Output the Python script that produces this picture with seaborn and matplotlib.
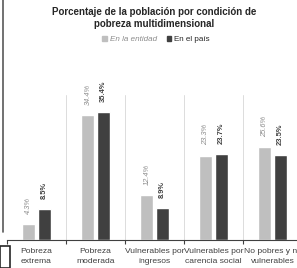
import numpy as np
import pandas as pd
import matplotlib
matplotlib.use("Agg")
import matplotlib.pyplot as plt
import seaborn as sns
from matplotlib.patches import Rectangle
from matplotlib.lines import Line2D

categorias = ["Pobreza\nextrema", "Pobreza\nmoderada", "Vulnerables por\ningresos",
              "Vulnerables por\ncarencia social", "No pobres y no\nvulnerables"]
entidad = [4.3, 34.4, 12.4, 23.3, 25.6]
pais = [8.5, 35.4, 8.9, 23.7, 23.5]
series = ["En la entidad", "En el país"]

df = pd.DataFrame({
    "cat": categorias * 2,
    "serie": [series[0]] * 5 + [series[1]] * 5,
    "valor": entidad + pais,
})

sns.set_style("white")
plt.rcParams["font.family"] = ["Liberation Sans", "DejaVu Sans"]

fig = plt.figure(figsize=(2.97, 2.68), dpi=100)
ax = fig.add_axes([7 / 297, 28 / 268, 295 / 297, 145 / 268])

sns.barplot(data=df, x="cat", y="valor", hue="serie", palette=["#bfbfbf", "#404040"],
            width=0.52, gap=0.14, ax=ax, legend=False, saturation=1)

ax.set_xlim(-0.5, 4.5)
ax.set_ylim(0, 40)
ax.set_yticks([])
ax.set_xlabel("")
ax.set_ylabel("")
for s in ["top", "right", "left"]:
    ax.spines[s].set_visible(False)
ax.spines["bottom"].set_color("#404040")
ax.spines["bottom"].set_linewidth(0.8)

# separadores entre categorias
for xb in np.arange(0.5, 4.5, 1):
    ax.axvline(xb, color="#dcdcdc", lw=0.7, zorder=0)
ax.set_xticks(np.arange(-0.5, 5.0, 1), minor=False)
ax.set_xticklabels([])
ax.set_xticks(range(5), minor=True)
ax.set_xticklabels(categorias, minor=True, fontsize=6.1, color="#404040", linespacing=1.55)
ax.tick_params(axis="x", which="major", length=3, width=0.8, color="#404040", bottom=True)
ax.tick_params(axis="x", which="minor", length=0, pad=6)

for cont, vals, st, wt, col in zip(ax.containers, [entidad, pais], ["italic", "normal"],
                                  ["normal", "bold"], ["#8c8c8c", "#404040"]):
    for bar, v in zip(cont, vals):
        ax.text(bar.get_x() + bar.get_width() / 2, bar.get_height() + 2.8, f"{v}%",
                rotation=90, ha="center", va="bottom", fontsize=5.4,
                style=st, fontweight=wt, color=col)

fig.text(0.52, 0.933, "Porcentaje de la población por condición de\npobreza multidimensional",
         ha="center", va="center", fontsize=7.0, fontweight="bold", color="#262626",
         linespacing=1.2)

handles = [Rectangle((0, 0), 1, 1, color="#bfbfbf"), Rectangle((0, 0), 1, 1, color="#404040")]
leg = fig.legend(handles, series, loc="center", bbox_to_anchor=(0.525, 0.852), ncol=2,
                 frameon=False, fontsize=5.8, handlelength=0.6, handleheight=0.6,
                 handletextpad=0.3, columnspacing=1.2)
leg.get_texts()[0].set_style("italic")
leg.get_texts()[0].set_color("#8c8c8c")
leg.get_texts()[1].set_color("#262626")

# marco izquierdo
fig.add_artist(Line2D([2.5 / 297, 2.5 / 297], [1, 36 / 268], color="#595959", lw=1.2))
fig.add_artist(Rectangle((0, 0), 10 / 297, 22 / 268, fill=False, ec="#262626", lw=1.2))

fig.savefig("out.png", dpi=100)
